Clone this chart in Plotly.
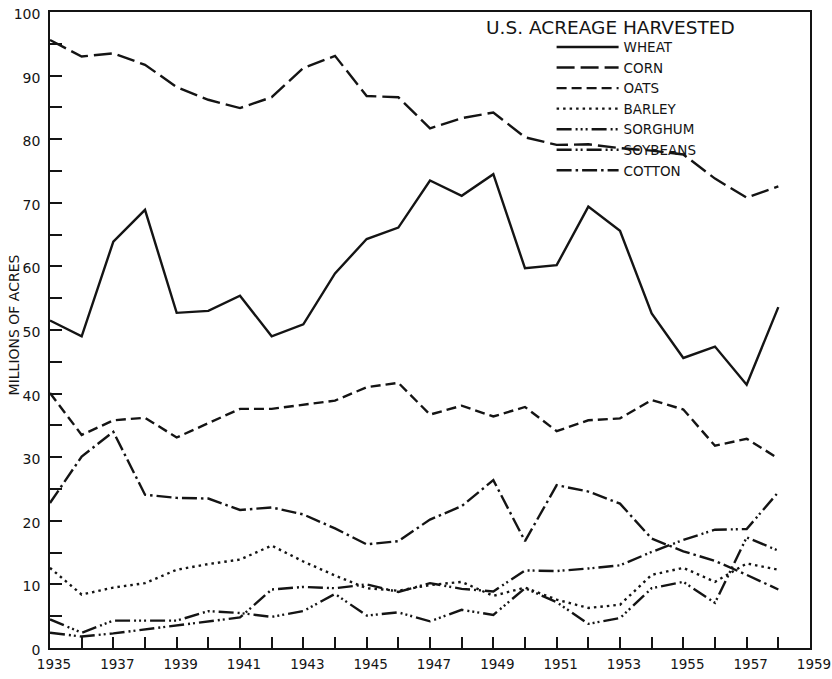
import plotly.graph_objects as go

years = list(range(1935, 1959))
wheat = [51.5, 49.0, 63.9, 68.9, 52.7, 53.0, 55.4, 49.0, 50.9, 58.9, 64.3, 66.1,
         73.5, 71.1, 74.5, 59.7, 60.2, 69.4, 65.6, 52.6, 45.6, 47.4, 41.4, 53.6]
corn = [95.6, 93.0, 93.5, 91.7, 88.2, 86.2, 84.9, 86.6, 91.2, 93.1, 86.8, 86.6,
        81.7, 83.3, 84.2, 80.3, 79.1, 79.2, 78.6, 78.2, 77.6, 73.8, 70.8, 72.6]
oats = [40.1, 33.5, 35.8, 36.2, 33.1, 35.3, 37.6, 37.6, 38.3, 38.9, 41.0, 41.7,
        36.7, 38.1, 36.4, 37.9, 34.1, 35.8, 36.1, 39.0, 37.5, 31.8, 32.9, 29.8]
barley = [12.6, 8.4, 9.5, 10.2, 12.3, 13.2, 13.9, 16.1, 13.6, 11.4, 9.4, 9.0,
          9.9, 10.4, 8.2, 9.5, 7.6, 6.3, 6.8, 11.5, 12.6, 10.4, 13.3, 12.3]
sorghum = [4.5, 2.4, 4.3, 4.3, 4.3, 5.8, 5.5, 4.9, 5.8, 8.5, 5.1, 5.6,
           4.2, 6.0, 5.2, 9.4, 7.2, 3.8, 4.7, 9.4, 10.4, 7.1, 17.4, 15.3]
soybeans = [2.4, 1.8, 2.3, 2.9, 3.6, 4.1, 4.8, 9.2, 9.6, 9.4, 10.0, 8.8,
            10.2, 9.3, 8.9, 12.2, 12.1, 12.5, 13.0, 15.1, 17.0, 18.6, 18.7, 24.5]
cotton = [22.8, 30.1, 34.0, 24.1, 23.6, 23.5, 21.7, 22.1, 21.0, 18.8, 16.3, 16.8,
          20.2, 22.3, 26.4, 16.8, 25.6, 24.6, 22.7, 17.2, 15.2, 13.7, 11.5, 9.2]

series_names = ["WHEAT", "CORN", "OATS", "BARLEY", "SORGHUM", "SOYBEANS", "COTTON"]
series_values = [wheat, corn, oats, barley, sorghum, soybeans, cotton]
dashes = ["solid", "18px,6px", "10px,5px", "2.5px,4px",
          "15px,4px,2px,3px,2px,3px,2px,4px",
          "15px,4px,2px,3px,2px,4px",
          "15px,4px,2.5px,4px"]

x_tickvals = list(range(1935, 1960))
x_ticktext = [str(y) if y % 2 == 1 else "" for y in x_tickvals]
y_tickvals = list(range(0, 101, 5))
y_ticktext = [str(v) if v % 10 == 0 else "" for v in y_tickvals]

INK = "#141414"
FONT = "DejaVu Sans"

fig = go.Figure()
for name, vals, dash in zip(series_names, series_values, dashes):
    fig.add_trace(go.Scatter(
        x=years, y=vals, name=name, mode="lines",
        line=dict(color=INK, width=2.4, dash=dash),
    ))

fig.update_layout(
    width=832, height=679,
    margin=dict(l=50, r=22, t=12, b=31, autoexpand=False),
    paper_bgcolor="white", plot_bgcolor="white",
    font=dict(family=FONT, color=INK, size=14),
    showlegend=True,
    legend=dict(
        x=0.660, y=0.969, xanchor="left", yanchor="top",
        bgcolor="rgba(0,0,0,0)", borderwidth=0,
        font=dict(family=FONT, size=13.5, color=INK),
        itemwidth=62, tracegroupgap=0,
    ),
    annotations=[
        dict(text="U.S. ACREAGE HARVESTED", xref="paper", yref="paper",
             x=0.737, y=0.975, xanchor="center", yanchor="middle", showarrow=False,
             font=dict(family=FONT, size=18.5, color=INK)),
        dict(text="MILLIONS OF ACRES", xref="paper", yref="paper",
             x=-0.048, y=0.508, xanchor="center", yanchor="middle", showarrow=False,
             textangle=-90, font=dict(family=FONT, size=14, color=INK)),
    ],
)
fig.update_xaxes(
    range=[1935, 1959], tickvals=x_tickvals, ticktext=x_ticktext,
    ticks="inside", ticklen=11, tickwidth=1.5, tickcolor=INK,
    showline=True, linecolor=INK, linewidth=1.6, mirror=True,
    showgrid=False, zeroline=False, automargin=False,
    ticklabelshift=4, ticklabelstandoff=3,
    tickfont=dict(family=FONT, size=13.5, color=INK),
)
fig.update_yaxes(
    range=[0, 100], tickvals=y_tickvals, ticktext=y_ticktext,
    ticks="inside", ticklen=12, tickwidth=1.5, tickcolor=INK,
    showline=True, linecolor=INK, linewidth=1.6, mirror=True,
    showgrid=False, zeroline=False, automargin=False,
    ticklabelshift=2, ticklabelstandoff=5,
    tickfont=dict(family=FONT, size=14, color=INK),
)

# remove the browser's default 8px body margin so the figure fills the window
fig.write_html("out.html", config={"displayModeBar": False},
               post_script="document.body.style.margin='0';")
